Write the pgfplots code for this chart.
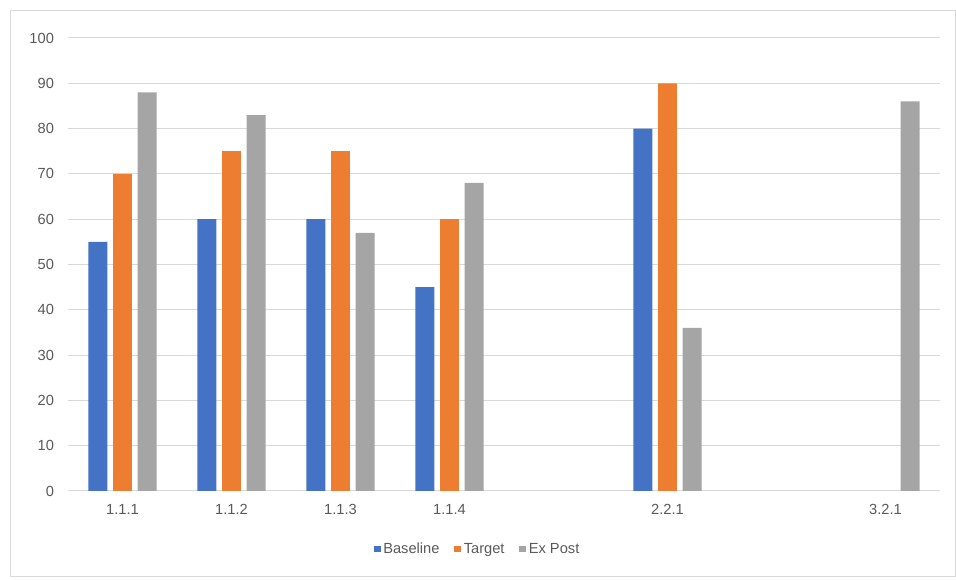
\documentclass[border=0pt]{standalone}
\usepackage{pgfplots}
\pgfplotsset{compat=1.18}
\usepackage{fontspec}
\setmainfont{Liberation Sans}
\definecolor{cBlue}{HTML}{4472C4}
\definecolor{cOrange}{HTML}{ED7D31}
\definecolor{cGray}{HTML}{A5A5A5}
\definecolor{cGrid}{HTML}{D9D9D9}
\definecolor{cText}{HTML}{595959}
\begin{document}
\begin{tikzpicture}[x=0.75pt,y=0.75pt]
\path[use as bounding box] (-68,-89) rectangle (888,491);
\draw[cGrid, line width=0.75pt] (-57,-86) rectangle (887,480);
\begin{axis}[
  at={(0,0)}, anchor=south west,
  scale only axis,
  width=654pt, height=339.75pt,
  xmin=-0.5, xmax=7.5,
  ymin=0, ymax=100,
  ytick={0,10,...,100},
  xtick={0,1,2,3,5,7},
  xticklabels={1.1.1,1.1.2,1.1.3,1.1.4,2.2.1,3.2.1},
  ymajorgrids,
  grid style={cGrid, line width=0.75pt},
  axis line style={draw=none},
  tick style={draw=none},
  major tick length=0pt,
  tick label style={font=\fontsize{11}{13}\selectfont, text=cText},
  /pgf/number format/assume math mode=true,
  xticklabel style={yshift=-6.5pt},
  yticklabel style={xshift=-7pt},
  ytick pos=left, xtick pos=bottom,
  bar width=0.174,
  legend style={at={(0.47,-0.128)}, anchor=center, draw=none, fill=none,
    legend columns=-1, font=\fontsize{11}{13}\selectfont, text=cText,
    /tikz/every even column/.append style={column sep=9pt}},
  legend image code/.code={\fill[#1] (0pt,-2.6pt) rectangle (5.2pt,2.6pt);},
  legend cell align=left,
]
\draw[cGrid, line width=0.75pt] (axis cs:-0.5,0) -- (axis cs:7.5,0);
\addplot[ybar, bar shift=-0.225, fill=cBlue, draw=none] coordinates {(0,55) (1,60) (2,60) (3,45) (5,80)};
\addplot[ybar, bar shift=0, fill=cOrange, draw=none] coordinates {(0,70) (1,75) (2,75) (3,60) (5,90)};
\addplot[ybar, bar shift=0.225, fill=cGray, draw=none] coordinates {(0,88) (1,83) (2,57) (3,68) (5,36) (7,86)};
\legend{Baseline,Target,Ex Post}
\end{axis}
\end{tikzpicture}
\end{document}
